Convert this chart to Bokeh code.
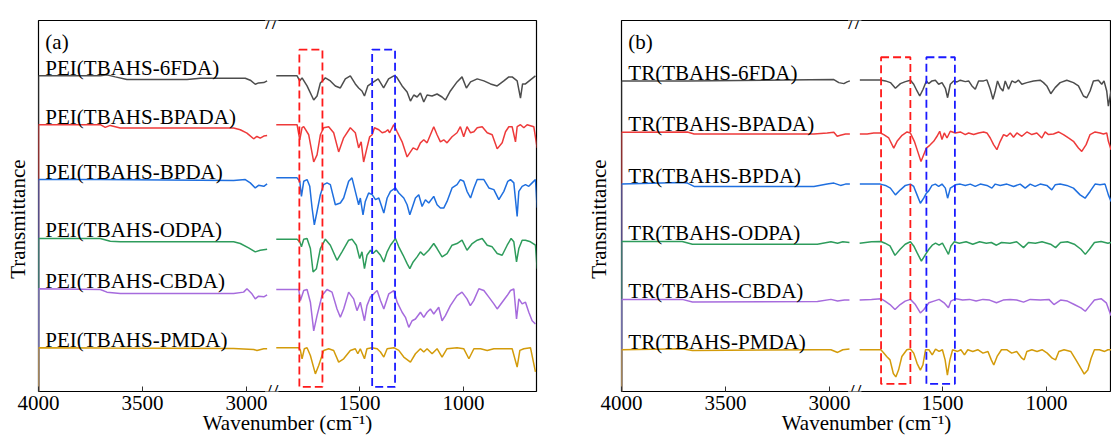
import numpy as np
from bokeh.plotting import figure
from bokeh.models import Range1d, FixedTicker, Label, CustomJSTickFormatter, ColumnDataSource
from bokeh.layouts import row
from bokeh.embed import file_html
from bokeh.resources import INLINE
from bokeh.core.properties import value

# ---------------- data: wavenumber (cm-1) and relative transmittance (a.u.) ----------------
A_6FDA_wn = [4000, 3703, 3671, 3631, 3575, 3431, 3286, 3222, 3062, 3006, 2982, 2958, 2942, 2917, 2901,
             1900, 1800, 1787, 1776, 1752, 1720, 1704, 1688, 1664, 1640, 1616, 1592, 1568, 1544, 1520, 1504, 1488, 1476, 1460, 1439,
             1410, 1384, 1360, 1335, 1322, 1295, 1271, 1255, 1239, 1223, 1207, 1191, 1175, 1151, 1127, 1103, 1087, 1063, 1031, 1007,
             986, 966, 934, 902, 870, 838, 806, 782, 766, 742, 726, 716, 702, 678, 654]
A_6FDA_t = [0, 0, 1, -1, -3.5, -3.7, -3.7, -2.3, -2.3, -2.3, -4.3, -8.3, -7, -6.7, -5,
            0, 0, -5, -2, -10, -24, -20, -7, -2, -5, -10, -12, -3, 0, -8, -12, -15, -20, -10, -7,
            -3, -12, -3, 0, -1, -10, -16, -25, -19, -21, -17, -26, -19, -20, -18, -21, -24, -15, -6, -1,
            -12, -6, -3, -5, -8, -10, -5, -1, -1, -5, -22, -8, -8, -4, 0]

A_BPADA_wn = [4000, 3703, 3679, 3655, 3607, 3062, 3030, 2998, 2966, 2950, 2934, 2917, 2901,
              1900, 1800, 1787, 1776, 1768, 1744, 1720, 1704, 1688, 1672, 1648, 1624, 1600, 1576, 1544, 1520, 1504, 1492, 1480, 1464,
              1451, 1439, 1428, 1407, 1391, 1375, 1364, 1355, 1335, 1319, 1295, 1271, 1255, 1242, 1223, 1207, 1191, 1175, 1159, 1143,
              1127, 1111, 1095, 1079, 1055, 1031, 1015, 999, 983, 966, 950, 934, 910, 886, 862, 838, 814, 798, 782, 766,
              750, 742, 726, 710, 694, 662, 646]
A_BPADA_t = [0, 0, -2.7, -0.7, -3.3, -3.3, -5, -8.3, -14, -11.7, -13.3, -11.3, -10.7,
             0, 0, -15, -3, -2, -10, -37, -30, -10, -3, -2, -8, -27, -13, -3, -8, -23, -17, -37, -23,
             -12, -10, -3, -5, -8, -7, -5, -8, 0, -7, -17, -32, -27, -23, -25, -18, -15, -18, -10, -2,
             -10, -17, -15, -18, -12, -8, -2, -12, -2, -8, -7, -3, -2, -8, -10, -24, -18, -7, -2, -2,
             -17, -2, 0, -3, 0, -2, -23]

A_BPDA_wn = [4000, 3703, 3062, 3006, 2982, 2958, 2942, 2917, 2901,
             1900, 1800, 1787, 1779, 1768, 1752, 1739, 1728, 1717, 1704, 1688, 1672, 1656, 1640, 1616, 1592, 1576, 1552, 1536, 1520,
             1504, 1496, 1483, 1472, 1456, 1439, 1423, 1407, 1383, 1367, 1351, 1327, 1311, 1287, 1271, 1258, 1247, 1231, 1215, 1199,
             1183, 1167, 1143, 1127, 1111, 1095, 1079, 1055, 1031, 1015, 999, 983, 966, 950, 934, 902, 878, 854, 830, 806,
             787, 774, 758, 742, 734, 718, 702, 686, 670, 654, 646]
A_BPDA_t = [0, 0, -1, 0, -3.3, -8.3, -5.7, -6.7, -4.3,
            1.7, 1.7, -1.7, -16.7, -1.7, 0, -6.7, -28, -45, -31.7, -15, -5, -3.3, -5, -25, -23.3, -18.3, -1.7, 1.7, -11.7,
            -25, -18.3, -35, -21.7, -13.3, -15, -20, -18.3, -33.3, -18.3, -11.7, -8.3, -13.3, -18.3, -25, -35, -28.3, -18.3, -15, -26.7,
            -20, -23.3, -16.7, -25, -28.3, -28.3, -21.7, -8.3, -5, 0, -1.7, -11.7, -18.3, -8.3, 0, 0, -8.3, -10, -20, -11.7,
            -1.7, 0, -3.3, -36.7, -11.7, -6.7, -5, -6.7, -3.3, 0, -28]

A_ODPA_wn = [4000, 3703, 3655, 3607, 3062, 3030, 2990, 2958, 2934, 2901,
             1900, 1800, 1787, 1779, 1768, 1752, 1736, 1723, 1707, 1688, 1664, 1640, 1608, 1584, 1552, 1536, 1515, 1499, 1488, 1476,
             1464, 1447, 1435, 1419, 1399, 1383, 1367, 1351, 1327, 1311, 1290, 1271, 1258, 1242, 1223, 1207, 1191, 1167, 1143, 1127,
             1103, 1079, 1055, 1031, 1007, 983, 958, 934, 910, 886, 862, 838, 814, 790, 771, 758, 745, 734, 718, 702,
             678, 654, 646]
A_ODPA_t = [0, 0, -2.7, -3.3, -3.3, -5, -9.3, -13.3, -11.7, -10.7,
            -0.7, -0.7, -3.3, -8.3, -0.7, 0, -10, -33.3, -30, -10, -0.7, -6.7, -21.7, -13.3, -1.7, -0.7, -6.7, -20, -13.3, -30,
            -16.7, -11.7, -15, -11.7, -16.7, -23.3, -13.3, -6.7, 0, -8.3, -16.7, -25, -30, -23.3, -18.3, -13.3, -16.7, -11.7, -5, -10,
            -18.3, -15, -6.7, -5, -1.7, -11.7, -5, -1.7, 0, -6.7, -8.3, -15, -16.7, -6.7, 0, -3.3, -23.3, -10, -1.7, -1.7,
            -3.3, -6.7, -30]

A_CBDA_wn = [4000, 3703, 3671, 3607, 3062, 3014, 2998, 2974, 2958, 2942, 2917, 2901,
             1900, 1792, 1784, 1768, 1752, 1736, 1720, 1704, 1680, 1656, 1632, 1608, 1592, 1576, 1552, 1528, 1512, 1496, 1476, 1464,
             1448, 1431, 1415, 1399, 1383, 1359, 1335, 1319, 1295, 1279, 1263, 1247, 1231, 1207, 1191, 1175, 1159, 1143, 1119, 1103,
             1087, 1063, 1031, 1007, 983, 967, 951, 926, 902, 878, 854, 838, 814, 790, 774, 758, 745, 734, 718, 702,
             686, 670, 654]
A_CBDA_t = [0, -0.7, -3.3, -4.7, -4.7, -3.3, 0, -5, -10, -7.3, -8, -6,
            -0.7, -0.7, -11.7, -1.7, -0.7, -13.3, -41.7, -26.7, -6.7, -0.7, -3.3, -20, -28.3, -20, -3.3, -10, -21.7, -13.3, -31.7, -16.7,
            -8.3, -5, -1.7, -11.7, -20, -5, -1.7, -13.3, -23.3, -28.3, -38.3, -31.7, -30, -23.3, -28.3, -23.3, -20, -25, -18.3, -31.7,
            -26.7, -16.7, -6.7, -3.3, -10, -16.7, -11.7, 0, -1.7, -8.3, -15, -20, -13.3, -6.7, -1.7, 0, -30, -10, -15, -13.3,
            -23.3, -31.7, -35]

A_PMDA_wn = [4000, 3703, 3062, 2966, 2950, 2917, 2901,
             1900, 1792, 1784, 1776, 1765, 1752, 1736, 1712, 1696, 1672, 1648, 1624, 1600, 1576, 1544, 1520, 1508, 1496, 1476, 1464,
             1440, 1415, 1399, 1383, 1367, 1335, 1311, 1287, 1255, 1231, 1207, 1191, 1175, 1151, 1127, 1103, 1079, 1031, 999, 974,
             950, 918, 886, 854, 806, 766, 742, 729, 710, 678, 654]
A_PMDA_t = [0, -0.3, -0.7, -1.7, -2.7, -1, -1,
            0, 0, -2.7, -11, -1, 0, -7.7, -26, -17.7, -2.7, -1, -2.7, -14.3, -11, -2.7, -1, -6, -1, -11, -1,
            0, -1, -4.3, -9.3, -1, 0, -2.7, -9.3, -14.3, -6, -1, -4.3, -1, -6, -1, -9.3, -1, 0, -1, -11,
            -1, -1, -2.7, -1, -1, -1, -19.3, -2.7, -1, 0, -24]

B_6FDA_wn = [4000, 3683, 2979, 2955, 2931, 2915, 2902,
             1897, 1798, 1774, 1750, 1726, 1702, 1678, 1654, 1638, 1622, 1609, 1593, 1577, 1566, 1550, 1534, 1518, 1502, 1486, 1475,
             1462, 1446, 1430, 1414, 1390, 1374, 1358, 1342, 1326, 1302, 1286, 1270, 1257, 1246, 1235, 1222, 1209, 1198, 1182, 1166,
             1150, 1134, 1118, 1094, 1062, 1030, 1014, 998, 979, 958, 934, 902, 870, 846, 822, 806, 790, 774, 750, 734,
             723, 710, 702, 689, 670, 650]
B_6FDA_t = [0, 0, 1.3, -1.7, -2.7, -1, 0,
            1, 1, 0, -1.7, -7.3, -2.7, -0.7, 0.7, -3.3, -10, -15, -8.3, 0, -2.7, 0, 0.7, -3.3, -1.7, -7.3, -16.7,
            -3.3, 0, -1, 0.7, -0.7, 0, -5, -8.3, 0, 0, 1, -8.3, -18.3, -10, 0, -6.7, -10, 0, -8.3, 0,
            -1.7, 0.7, -3.3, -1.7, 0, 0.7, -1.7, -5, -12.7, -6.7, -1.7, 0.7, -1.7, -5, -15, -16.7, -10, 0, 0.7, -3.3,
            0, -10, -25, -10, -3, 0]

B_BPADA_wn = [4000, 3683, 3651, 3075, 3011, 2979, 2963, 2947, 2923, 2902,
              1897, 1862, 1830, 1798, 1782, 1758, 1734, 1718, 1694, 1670, 1654, 1635, 1619, 1603, 1590, 1577, 1561, 1542, 1526, 1513,
              1502, 1491, 1478, 1462, 1438, 1414, 1390, 1374, 1350, 1326, 1302, 1286, 1270, 1254, 1238, 1222, 1206, 1190, 1174, 1158,
              1142, 1118, 1094, 1070, 1046, 1022, 1006, 990, 966, 942, 918, 894, 870, 846, 830, 809, 790, 766, 742, 726,
              710, 702, 689, 670, 650]
B_BPADA_t = [0, 0.3, -1.7, -1.7, -0.7, 0, -4, -3, -1.7, -1.7,
             -1.7, -1.7, -0.7, -0.7, -2.3, -5.7, -15.7, -9, -3, 0.3, -0.7, -9, -19, -29, -22.3, -15.7, -13, -9, -4, 1,
             -7.3, -0.7, -5.7, 1, -0.7, 0.3, -2.3, -0.7, -2.3, -0.7, 0.3, -0.7, -5.7, -12.3, -17.3, -9, -2.3, -4, -0.7, -5,
             -0.7, -4, 0.3, -2.3, -0.7, -5.7, 0.3, -2.3, -1.7, 0.3, -2.3, -5.7, -9, -15.7, -19, -12.3, -2.3, 0.3, -0.7, -1.7,
             -0.7, -9, -17.3, -12, -5]

B_BPDA_wn = [4000, 3715, 3683, 3651, 3075, 3011, 2979, 2947, 2923, 2902,
             1897, 1798, 1774, 1750, 1726, 1702, 1678, 1654, 1638, 1622, 1606, 1590, 1577, 1566, 1550, 1534, 1518, 1502, 1486, 1475,
             1462, 1438, 1414, 1390, 1366, 1342, 1318, 1286, 1262, 1246, 1222, 1190, 1158, 1126, 1102, 1078, 1054, 1030, 998, 974,
             958, 934, 902, 870, 838, 814, 790, 766, 742, 718, 702, 689, 670, 650]
B_BPDA_t = [0, 1.7, 1, -2.3, -2.3, 0, 1, -1.3, 0, 0,
            0, 0, -1.3, -4, -10.7, -5.7, -1.3, 0, -2.3, -10.7, -19, -14, -9, -6.7, -1.3, 0, -2.3, 0, -4, -14,
            -4, -0.7, 0, -1.3, 0, -2.3, 0, -1.3, -4, 0, -1.3, 0, -2.3, 0, -4, 0, -2.3, 0, -1.3, -5.7,
            -0.7, 0, -1.3, -4, -10.7, -14, -7.3, 0, -0.7, 0, -10.7, -17.3, -10, -3]

B_ODPA_wn = [4000, 3708, 3659, 3058, 2993, 2961, 2936, 2904,
             1898, 1841, 1796, 1776, 1752, 1728, 1703, 1679, 1654, 1638, 1622, 1601, 1581, 1565, 1549, 1533, 1516, 1500, 1484, 1471,
             1459, 1443, 1419, 1386, 1354, 1321, 1289, 1265, 1240, 1216, 1175, 1143, 1110, 1086, 1053, 1021, 980, 956, 932, 899,
             866, 834, 813, 793, 769, 737, 704, 691, 670, 650]
B_ODPA_t = [0, 0, -2.7, -2.7, -0.3, -1.7, -0.3, -1,
            -1.7, -0.3, 0, -1.7, -4.4, -13.8, -7.7, -2.7, -0.3, -4.4, -11.1, -19.5, -12.8, -7.7, -3.7, -1.7, -3.7, -1.7, -7.7, -12.8,
            -4.4, -0.3, -1.7, -0.3, -2.7, -0.3, -1.7, -1, -3.7, -1, -1.7, -0.3, -6.1, -1, -1.7, -0.3, -2.7, -6.1, -1, -0.3,
            -2.7, -7.7, -12.8, -7.7, -1, 0, -1.7, -1, -3, -2]

B_CBDA_wn = [4000, 3708, 3659, 3058, 2993, 2961, 2928, 2904,
             1898, 1841, 1796, 1776, 1752, 1728, 1703, 1679, 1654, 1630, 1606, 1589, 1565, 1541, 1516, 1492, 1471, 1459, 1435, 1403,
             1370, 1338, 1305, 1273, 1240, 1208, 1175, 1143, 1110, 1078, 1029, 988, 964, 932, 899, 866, 834, 813, 793, 769,
             737, 712, 691, 670, 650]
B_CBDA_t = [0, 0, -2.7, -2, 0, -1.7, -0.7, -0.7,
            -0.7, 0, 0.7, -1.7, -5.1, -10.1, -5.1, -1.7, 0, -5.1, -13.5, -10.1, -3.4, -1.7, 0, -3.4, -8.4, -1.7, 0.7, -0.7,
            0, -1.7, 0, -0.7, -3.4, -0.7, 0, -0.7, -2.7, 0, -0.7, 0, -5.1, -0.7, -1.7, -5.1, -8.4, -11.8, -6.7, -0.7,
            0.7, -3.4, -15.2, -20, -10]

B_PMDA_wn = [4000, 3708, 3659, 3058, 2993, 2961, 2936, 2904,
             1898, 1796, 1784, 1768, 1752, 1736, 1724, 1711, 1695, 1671, 1654, 1638, 1622, 1606, 1594, 1581, 1565, 1549, 1533, 1516,
             1500, 1487, 1476, 1464, 1451, 1427, 1411, 1394, 1378, 1354, 1330, 1305, 1281, 1265, 1253, 1237, 1216, 1191, 1167, 1143,
             1118, 1107, 1094, 1070, 1045, 1021, 996, 972, 956, 940, 915, 883, 858, 834, 818, 801, 785, 769, 745, 720,
             704, 691, 670, 650]
B_PMDA_t = [0, 1, -0.7, 0, 0, -2.7, 0, 0.7,
            0, 0, -2.7, -6.7, -10.1, -23.6, -27, -20.2, -6.7, 0, 0.7, -3.4, -13.5, -20.2, -15.2, 0, 0, -5.1, 0.7, -1.7,
            0, -10.1, -25.3, -10.1, 0, -1.7, 0, -5.1, 0, -1.7, 0, -3.4, -1.7, -10.1, -15.2, -6.7, 0, 0, -3.4, -1.7,
            -8.4, -10.1, -1.7, 0, -1.7, 0, -3.4, -8.4, -10.1, -1.7, 0, -1.7, -10.1, -18.5, -24.2, -20.2, -8.4, 0, 0, -1.7,
            0, 0, -2, 0]

A_labels = ["PEI(TBAHS-6FDA)", "PEI(TBAHS-BPADA)", "PEI(TBAHS-BPDA)",
            "PEI(TBAHS-ODPA)", "PEI(TBAHS-CBDA)", "PEI(TBAHS-PMDA)"]
B_labels = ["TR(TBAHS-6FDA)", "TR(TBAHS-BPADA)", "TR(TBAHS-BPDA)",
            "TR(TBAHS-ODPA)", "TR(TBAHS-CBDA)", "TR(TBAHS-PMDA)"]

# highlighted wavenumber windows (cm-1)
A_box_red = [1789, 1678]
A_box_blue = [1439, 1329]
B_box_red = [1795, 1654]
B_box_blue = [1577, 1440]

tick_wn = [4000, 3500, 3000, 1500, 1000]

# ---------------- layout / style ----------------
SHIFT = 957          # axis-break shift applied to the low-wavenumber segment
BREAK_AT = 2400      # wavenumbers below this belong to the right-hand segment
DISP_BREAK = 2880    # same break expressed in display coordinates
FONT = "Liberation Serif"
FS = "21px"
HEIGHT = 437
COLORS = ["#4d4d4d", "#ee3a3a", "#1f6fdf", "#2e9c5c", "#a66bdd", "#d39b0a"]
A_offsets = [313.5, 265, 210.5, 152, 102, 43.5]
B_offsets = [308.5, 257.5, 206, 149, 91.5, 41.5]
NBSP = "\u00a0"


def disp(wn):
    wn = np.asarray(wn, dtype=float)
    return np.where(wn > BREAK_AT, wn, wn + SHIFT)


def make_panel(letter, labels, wns, ts, offsets, box_red, box_blue, box_y, x_end, width,
               border_left, border_right, ylab_standoff):
    p = figure(width=width, height=HEIGHT, x_range=Range1d(4000, x_end), y_range=Range1d(0, 368.5),
               output_backend="svg", toolbar_location=None,
               min_border_left=border_left, min_border_right=border_right, min_border_top=20, min_border_bottom=0)
    p.background_fill_color = "white"
    p.border_fill_color = "white"
    p.xgrid.visible = False
    p.ygrid.visible = False
    p.outline_line_color = "black"
    p.outline_line_width = 1.2

    xa = p.xaxis[0]
    xa.ticker = FixedTicker(ticks=[float(v) for v in disp(tick_wn)])
    xa.formatter = CustomJSTickFormatter(args=dict(shift=SHIFT, brk=DISP_BREAK),
                                         code="return (tick > brk ? tick : tick - shift).toFixed(0);")
    xa.axis_line_color = None
    xa.major_tick_in = 5
    xa.major_tick_out = 0
    xa.major_tick_line_color = "#333333"
    xa.minor_tick_line_color = None
    xa.major_label_standoff = 4
    xa.major_label_text_font = FONT
    xa.major_label_text_font_size = FS
    xa.major_label_text_color = "black"
    xa.axis_label = "Wavenumber (cm\u207b\u00b9)"
    xa.axis_label_text_font = FONT
    xa.axis_label_text_font_size = FS
    xa.axis_label_text_font_style = "normal"
    xa.axis_label_text_color = "black"
    xa.axis_label_standoff = -2

    ya = p.yaxis[0]
    ya.ticker = FixedTicker(ticks=[])
    ya.axis_line_color = None
    ya.major_tick_in = 0
    ya.major_tick_out = 0
    ya.minor_tick_line_color = None
    ya.major_label_standoff = 0
    ya.axis_label = "Transmittance" + NBSP * 5
    ya.axis_label_text_font = FONT
    ya.axis_label_text_font_size = FS
    ya.axis_label_text_font_style = "normal"
    ya.axis_label_text_color = "black"
    ya.axis_label_standoff = ylab_standoff

    for wn, t, off, col in zip(wns, ts, offsets, COLORS):
        wn = np.asarray(wn, float)
        t = np.asarray(t, float)
        hi = wn > BREAK_AT
        xs = np.concatenate([[disp(wn[:1])[0]], disp(wn[hi]), [np.nan], disp(wn[~hi])])
        ys = np.concatenate([[0.0], t[hi] + off, [np.nan], t[~hi] + off])
        p.line(xs, ys, line_color=col, line_width=1.5)

    src = ColumnDataSource(dict(x=[3967] * len(labels), y=[o + 8 for o in offsets], text=labels))
    p.text("x", "y", text="text", source=src, text_font=value(FONT), text_font_size=FS,
           text_baseline="alphabetic", text_align="left", text_color="black")
    p.add_layout(Label(x=3967, y=347, text=letter, text_font=FONT, text_font_size=FS,
                       text_baseline="alphabetic", text_color="black"))

    for box, col in ((box_red, "#ff1a1a"), (box_blue, "#1a1aff")):
        xb = disp(box)
        p.quad(left=[xb[0]], right=[xb[1]], bottom=[box_y[0]], top=[box_y[1]], fill_color=None,
               line_color=col, line_width=1.8, line_dash="8 4")

    # axis-break marks
    brk = (2900 + 1900 + SHIFT) / 2
    for yb in (368.5, 0):
        p.add_layout(Label(x=brk, y=yb, text="//", text_font=FONT, text_font_size="24px",
                           text_align="center", text_baseline="middle", text_color="black",
                           background_fill_color="white"))
    return p


pa = make_panel("(a)", A_labels,
                [A_6FDA_wn, A_BPADA_wn, A_BPDA_wn, A_ODPA_wn, A_CBDA_wn, A_PMDA_wn],
                [A_6FDA_t, A_BPADA_t, A_BPDA_t, A_ODPA_t, A_CBDA_t, A_PMDA_t],
                A_offsets, A_box_red, A_box_blue, (4.5, 339.5), 1606, 583, 38, 47, 9)
pb = make_panel("(b)", B_labels,
                [B_6FDA_wn, B_BPADA_wn, B_BPDA_wn, B_ODPA_wn, B_CBDA_wn, B_PMDA_wn],
                [B_6FDA_t, B_BPADA_t, B_BPDA_t, B_ODPA_t, B_CBDA_t, B_PMDA_t],
                B_offsets, B_box_red, B_box_blue, (7.5, 332), 1644, 528, 38, 0, 11)

layout = row(pa, pb, spacing=0)
open("out.html", "w").write(file_html(layout, INLINE))
